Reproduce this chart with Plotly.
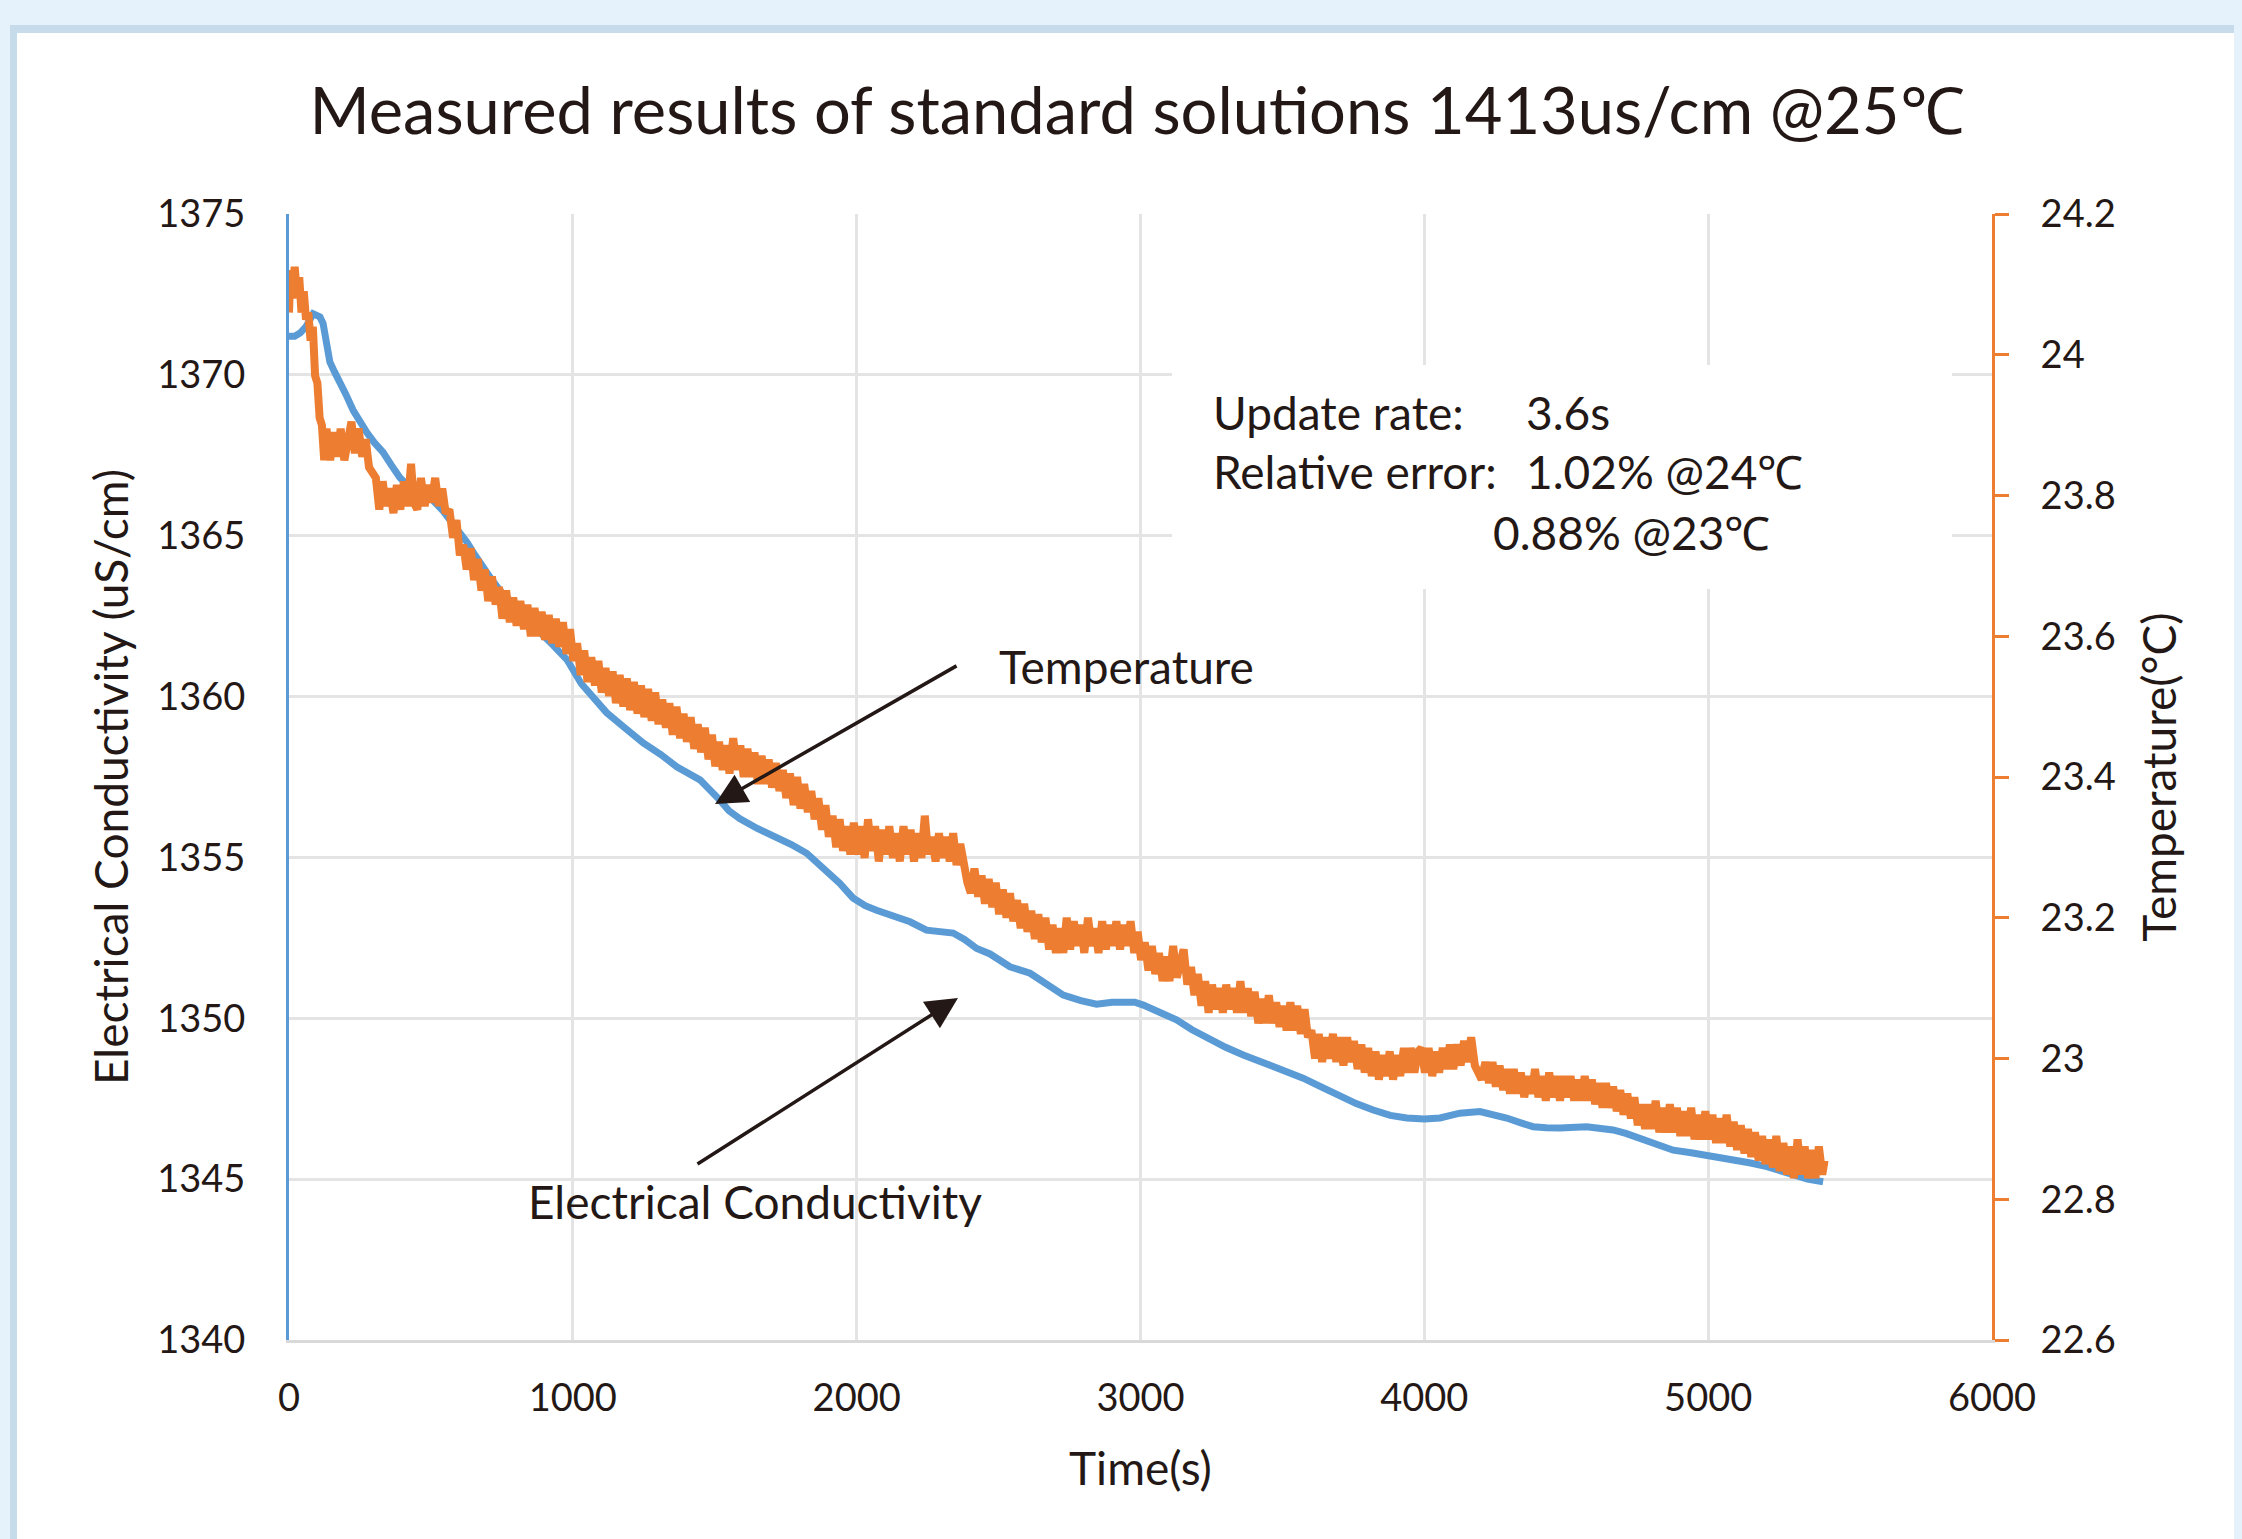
import plotly.graph_objects as go

# ---------------- data ----------------
ec_time = [0, 20, 39, 60, 85, 109, 120, 127, 135, 144, 160, 180, 200, 226, 250, 275, 300, 331, 360,
           391, 420, 451, 480, 507, 540, 567, 600, 627, 655, 683, 713, 743, 780, 814, 850, 884, 930,
           979, 1030, 1070, 1119, 1180, 1248, 1310, 1366, 1448, 1485, 1518, 1550, 1589, 1650, 1718,
           1770, 1824, 1894, 1940, 1987, 2030, 2070, 2130, 2188, 2246, 2300, 2340, 2380, 2423, 2470,
           2540, 2611, 2670, 2728, 2790, 2845, 2900, 2939, 2980, 3010, 3060, 3127, 3180, 3233, 3300,
           3362, 3420, 3480, 3573, 3640, 3703, 3760, 3820, 3880, 3938, 4000, 4055, 4125, 4196, 4250,
           4290, 4340, 4383, 4430, 4477, 4572, 4665, 4710, 4760, 4820, 4877, 4940, 4995, 5088, 5150,
           5207, 5260, 5300, 5350, 5405]
ec_value = [1371.2, 1371.2, 1371.3, 1371.5, 1371.9, 1371.8, 1371.6, 1371.2, 1370.7, 1370.4, 1370.1,
            1369.8, 1369.4, 1368.9, 1368.5, 1368.2, 1367.9, 1367.6, 1367.2, 1366.8, 1366.55, 1366.4,
            1366.25, 1366.1, 1365.8, 1365.5, 1365.15, 1364.8, 1364.4, 1364.0, 1363.65, 1363.3,
            1362.95, 1362.6, 1362.3, 1362.0, 1361.6, 1361.15, 1360.4, 1360.0, 1359.5, 1359.05,
            1358.56, 1358.2, 1357.82, 1357.41, 1357.1, 1356.78, 1356.45, 1356.2, 1355.9, 1355.64,
            1355.4, 1355.13, 1354.6, 1354.2, 1353.74, 1353.5, 1353.36, 1353.2, 1353.0, 1352.74,
            1352.68, 1352.65, 1352.45, 1352.17, 1352.0, 1351.6, 1351.4, 1351.05, 1350.72, 1350.55,
            1350.44, 1350.5, 1350.52, 1350.5, 1350.41, 1350.2, 1349.95, 1349.65, 1349.39, 1349.1,
            1348.86, 1348.65, 1348.49, 1348.14, 1347.85, 1347.56, 1347.35, 1347.15, 1346.98, 1346.9,
            1346.87, 1346.9, 1347.05, 1347.1, 1347.0, 1346.9, 1346.75, 1346.63, 1346.6, 1346.59,
            1346.63, 1346.53, 1346.42, 1346.28, 1346.08, 1345.9, 1345.82, 1345.75, 1345.6, 1345.5,
            1345.39, 1345.25, 1345.13, 1345.0, 1344.92]

temp_time = [
    0, 5, 12, 20, 28, 36, 44, 52, 60, 68, 76, 84, 92, 100, 108, 116, 124,
    132, 145, 158, 170, 182, 195, 208, 220, 232, 245, 258, 270, 282, 294,
    306, 318, 330, 342, 355, 368, 380, 392, 405, 418, 430, 440, 452, 465, 478, 490, 502, 515, 528, 540, 552,
    565, 578, 590, 602, 614, 626, 640, 652, 665, 678, 690, 702, 715, 728, 740, 752, 765, 778, 790, 802,
    815, 828, 840, 852, 865, 878, 890, 902, 915, 928, 940, 952, 965, 978,
    990, 1002, 1015, 1028, 1040, 1052, 1065, 1078, 1090, 1102, 1115, 1128, 1140, 1152, 1165, 1178, 1190,
    1202, 1215, 1228, 1240, 1252, 1265, 1278, 1290, 1302, 1315, 1328, 1340, 1352, 1365, 1378, 1390, 1402,
    1415, 1428, 1440, 1452, 1465, 1478, 1490, 1502,
    1515, 1528, 1540, 1552, 1565, 1578, 1590, 1602, 1615, 1628, 1640, 1652, 1665, 1678, 1690, 1702, 1715,
    1728, 1740, 1752, 1765, 1778, 1790, 1802, 1815, 1828, 1840, 1852, 1865, 1878, 1890, 1902, 1915, 1928,
    1940, 1952, 1965, 1978,
    1990, 2002, 2015, 2028, 2040, 2052, 2065, 2078, 2090, 2102, 2115, 2128, 2140, 2152, 2165, 2178, 2190,
    2202, 2215, 2228, 2240, 2252, 2265, 2278, 2290, 2302, 2315, 2328, 2340, 2352, 2365,
    2378, 2390, 2402, 2415, 2428, 2440, 2452, 2465, 2478, 2490, 2502, 2515, 2528, 2540, 2552, 2565, 2578,
    2590, 2602, 2615, 2628, 2640, 2652, 2665, 2678, 2690, 2702,
    2715, 2728, 2740, 2752, 2765, 2778, 2790, 2802, 2815, 2828, 2840, 2852, 2865, 2878, 2890, 2902, 2915,
    2928, 2940, 2952, 2965, 2978, 2990,
    3002, 3015, 3028, 3040, 3052, 3065, 3078, 3090, 3102, 3115, 3128, 3140, 3152, 3165, 3178, 3190, 3202,
    3215, 3228, 3240, 3252, 3265, 3278, 3290, 3302, 3315, 3328, 3340, 3352, 3365, 3378, 3390, 3402, 3415,
    3428, 3440, 3452, 3465, 3478, 3490, 3502, 3515, 3528, 3540, 3552, 3565, 3578, 3590,
    3602, 3615, 3628, 3640, 3652, 3665, 3678, 3690, 3702, 3715, 3728, 3740, 3752, 3765, 3778, 3790, 3802,
    3815, 3828, 3840, 3852, 3865, 3878, 3890, 3902, 3915, 3928, 3940, 3952, 3965, 3978,
    3990, 4002, 4015, 4028, 4040, 4052, 4065, 4078, 4090, 4102, 4115, 4128, 4140, 4152, 4165, 4178, 4190,
    4202, 4215,
    4228, 4240, 4252, 4265, 4278, 4290, 4302, 4315, 4328, 4340, 4352, 4365, 4378, 4390, 4402, 4415, 4428,
    4440, 4452, 4465, 4478, 4490, 4502, 4515, 4528, 4540, 4552, 4565, 4578, 4590, 4602, 4615, 4628, 4640,
    4652,
    4665, 4678, 4690, 4702, 4715, 4728, 4740, 4752, 4765, 4778, 4790, 4802, 4815, 4828, 4840, 4852, 4865,
    4878, 4890, 4902, 4915, 4928, 4940, 4952, 4965, 4978, 4990, 5002,
    5015, 5028, 5040, 5052, 5065, 5078, 5090, 5102, 5115, 5128, 5140, 5152, 5165, 5178, 5190, 5202, 5215,
    5228, 5240, 5252, 5265, 5278, 5290, 5302, 5315, 5328, 5340, 5352, 5365, 5378, 5390, 5402, 5410]
temp_value = [
    24.06, 24.12, 24.08, 24.125, 24.085, 24.11, 24.06, 24.09, 24.05, 24.06, 24.02, 24.04, 23.97, 23.96, 23.91, 23.90, 23.85,
    23.895, 23.85, 23.89, 23.855, 23.895, 23.85, 23.88, 23.905, 23.86, 23.895, 23.855, 23.88, 23.84, 23.83,
    23.825, 23.78, 23.82, 23.785, 23.81, 23.775, 23.815, 23.78, 23.82, 23.785, 23.845, 23.79, 23.78, 23.825, 23.785,
    23.815, 23.79, 23.825, 23.785, 23.81, 23.775,
    23.78, 23.74, 23.765, 23.715, 23.73, 23.695, 23.725, 23.68, 23.71, 23.665, 23.695, 23.65, 23.685, 23.645, 23.67,
    23.625, 23.665, 23.62, 23.655, 23.615,
    23.65, 23.61, 23.645, 23.60, 23.64, 23.60, 23.635, 23.595, 23.63, 23.59, 23.625, 23.585, 23.62, 23.575,
    23.61, 23.565, 23.59, 23.545, 23.58, 23.535, 23.57, 23.53, 23.565, 23.52, 23.555, 23.515, 23.55, 23.505, 23.545,
    23.50, 23.54,
    23.495, 23.535, 23.49, 23.53, 23.485, 23.525, 23.48, 23.52, 23.475, 23.51, 23.47, 23.505, 23.46, 23.50, 23.455,
    23.49, 23.45,
    23.485, 23.44, 23.475, 23.435, 23.47, 23.425, 23.46, 23.415,
    23.45, 23.41, 23.445, 23.405, 23.455, 23.41, 23.445, 23.40, 23.44, 23.40, 23.435, 23.39, 23.43, 23.39, 23.425,
    23.385, 23.42,
    23.38, 23.41, 23.37, 23.405, 23.36, 23.40, 23.355, 23.39, 23.35, 23.38, 23.34, 23.37, 23.325, 23.36, 23.315,
    23.345, 23.30,
    23.34, 23.295, 23.33, 23.29,
    23.335, 23.29, 23.33, 23.285, 23.34, 23.295, 23.33, 23.28, 23.325, 23.29, 23.33, 23.285, 23.32, 23.28, 23.33,
    23.29, 23.325,
    23.28, 23.32, 23.285, 23.345, 23.29, 23.315, 23.28, 23.32, 23.285, 23.315, 23.28, 23.32, 23.275, 23.305,
    23.265, 23.25, 23.235, 23.27, 23.23, 23.26, 23.22, 23.255, 23.215, 23.25, 23.205, 23.24, 23.20, 23.235, 23.195,
    23.225, 23.185,
    23.22, 23.18, 23.21, 23.17, 23.205, 23.165, 23.20, 23.155, 23.19, 23.15,
    23.185, 23.15, 23.20, 23.155, 23.195, 23.16, 23.19, 23.15, 23.20, 23.16, 23.185, 23.15, 23.195, 23.155, 23.19,
    23.16, 23.195,
    23.155, 23.19, 23.16, 23.195, 23.15, 23.18,
    23.14, 23.165, 23.125, 23.16, 23.12, 23.15, 23.11, 23.145, 23.11, 23.16, 23.115, 23.14, 23.155, 23.105, 23.13,
    23.09, 23.12,
    23.075, 23.11, 23.065, 23.105, 23.07, 23.10, 23.065, 23.105, 23.07, 23.10, 23.065, 23.11, 23.065, 23.10, 23.06,
    23.095, 23.05,
    23.085, 23.05, 23.09, 23.05, 23.08, 23.045, 23.075, 23.04, 23.08, 23.04, 23.075, 23.035, 23.07, 23.03,
    23.04, 23.00, 23.035, 22.995, 23.03, 23.00, 23.035, 22.995, 23.03, 22.99, 23.03, 22.995, 23.025, 22.985, 23.02,
    22.98, 23.015,
    22.975, 23.01, 22.97, 23.005, 22.975, 23.01, 22.97, 23.005, 22.975, 23.015, 22.98, 23.015, 22.98, 23.01,
    23.015, 22.98, 23.015, 22.975, 23.01, 22.98, 23.015, 22.985, 23.02, 22.985, 23.02, 22.99, 23.025, 22.995, 23.03,
    22.99, 22.98,
    22.97, 22.995,
    22.965, 22.995, 22.96, 22.99, 22.955, 22.985, 22.95, 22.985, 22.95, 22.98, 22.945, 22.975, 22.95, 22.985, 22.945,
    22.975, 22.94,
    22.98, 22.945, 22.975, 22.94, 22.975, 22.945, 22.975, 22.94, 22.97, 22.94, 22.975, 22.94, 22.97, 22.935, 22.965,
    22.93, 22.965,
    22.93,
    22.96, 22.925, 22.955, 22.92, 22.95, 22.915, 22.945, 22.905, 22.935, 22.90, 22.935, 22.90, 22.94, 22.895, 22.93,
    22.895, 22.935,
    22.895, 22.93, 22.89, 22.925, 22.89, 22.93, 22.885, 22.92, 22.885, 22.925, 22.885,
    22.92, 22.88, 22.915, 22.88, 22.92, 22.875, 22.91, 22.87, 22.905, 22.865, 22.90, 22.86, 22.895, 22.855, 22.89,
    22.85, 22.885,
    22.845, 22.89, 22.84, 22.88, 22.835, 22.875, 22.83, 22.885, 22.835, 22.875, 22.83, 22.87, 22.83, 22.875, 22.835,
    22.855]

x_ticks = [0, 1000, 2000, 3000, 4000, 5000, 6000]
ec_ticks = [1340, 1345, 1350, 1355, 1360, 1365, 1370, 1375]
temp_ticks = [22.6, 22.8, 23.0, 23.2, 23.4, 23.6, 23.8, 24.0, 24.2]
temp_tick_labels = ["22.6", "22.8", "23", "23.2", "23.4", "23.6", "23.8", "24", "24.2"]

# ---------------- styling / layout ----------------
OFF = 8                      # default page margin of the html body
W, H = 2242 - OFF, 1539 - OFF
ML, MT = 289 - OFF, 214 - OFF
PW, PH = 1703, 1126
MR, MB = W - ML - PW, H - MT - PH
FONT = "Lato"
TXT = "#231815"
BLUE = "#5B9BD5"
ORANGE = "#ED7D31"
GRID = "#E4E4E4"
OUTER = "#E6F2FB"


def px(X):  # page pixel -> paper coordinate
    return (X - OFF - ML) / PW


def py(Y):
    return (H - MB - (Y - OFF)) / PH


fig = go.Figure()
fig.add_trace(go.Scatter(x=ec_time, y=ec_value, mode="lines", name="Electrical Conductivity",
                         line=dict(color=BLUE, width=7), yaxis="y"))
fig.add_trace(go.Scatter(x=temp_time, y=temp_value, mode="lines", name="Temperature",
                         line=dict(color=ORANGE, width=8), yaxis="y2"))

shapes = [
    dict(type="rect", xref="paper", yref="paper", layer="below",
         x0=px(10), x1=px(2270), y0=py(1570), y1=py(25),
         fillcolor="#C6DCEB", line=dict(width=0)),
    dict(type="rect", xref="paper", yref="paper", layer="below",
         x0=px(17), x1=px(2270), y0=py(1570), y1=py(33),
         fillcolor="white", line=dict(width=0)),
    dict(type="rect", xref="paper", yref="paper", layer="above",
         x0=px(1172), x1=px(1952), y0=py(589), y1=py(365),
         fillcolor="white", line=dict(width=0)),
]

ann_font = dict(family=FONT, size=46, color=TXT)
annotations = [
    dict(xref="paper", yref="paper", x=px(1211), y=py(412), text="Update rate:",
         showarrow=False, xanchor="left", yanchor="middle", font=ann_font),
    dict(xref="paper", yref="paper", x=px(1524), y=py(412), text="3.6s",
         showarrow=False, xanchor="left", yanchor="middle", font=ann_font),
    dict(xref="paper", yref="paper", x=px(1211), y=py(472), text="Relative error:",
         showarrow=False, xanchor="left", yanchor="middle", font=ann_font),
    dict(xref="paper", yref="paper", x=px(1524), y=py(472), text="1.02% @24℃",
         showarrow=False, xanchor="left", yanchor="middle", font=ann_font),
    dict(xref="paper", yref="paper", x=px(1491), y=py(532), text="0.88% @23℃",
         showarrow=False, xanchor="left", yanchor="middle", font=ann_font),
    dict(xref="x", yref="y", x=2494, y=1360.95, text="Temperature",
         showarrow=False, xanchor="left", yanchor="middle", font=ann_font),
    dict(xref="x", yref="y", x=835, y=1344.32, text="Electrical Conductivity",
         showarrow=False, xanchor="left", yanchor="middle", font=ann_font),
    dict(xref="x", yref="y", x=1501, y=1356.66, ax=243, ay=-139, text="",
         showarrow=True, arrowhead=2, arrowwidth=3.5, arrowsize=1.8, arrowcolor=TXT),
    dict(xref="x", yref="y", x=2357, y=1350.63, ax=-262, ay=167, text="",
         showarrow=True, arrowhead=2, arrowwidth=3.5, arrowsize=1.8, arrowcolor=TXT),
]

tick_font = dict(family=FONT, size=38, color=TXT)
title_font = dict(family=FONT, size=46, color=TXT)

fig.update_layout(
    width=W, height=H,
    margin=dict(l=ML, r=MR, t=MT, b=MB, pad=0),
    paper_bgcolor=OUTER,
    plot_bgcolor="rgba(0,0,0,0)",
    showlegend=False,
    title=dict(text="Measured results of standard solutions 1413us/cm @25℃",
               x=(1137 - OFF) / W, xanchor="center", xref="container",
               y=1 - (111 - OFF) / H, yanchor="middle", yref="container",
               font=dict(family=FONT, size=65, color=TXT)),
    xaxis=dict(range=[0, 6000], tickvals=x_ticks, showgrid=True, gridcolor=GRID, gridwidth=3,
               zeroline=False, showline=True, linecolor="#D9D9D9", linewidth=3,
               ticks="", tickfont=tick_font, ticklabelstandoff=22,
               title=dict(text="Time(s)", font=title_font, standoff=36)),
    yaxis=dict(range=[1340, 1375], tickvals=ec_ticks, showgrid=True, gridcolor=GRID, gridwidth=3,
               zeroline=False, showline=True, linecolor=BLUE, linewidth=3,
               ticks="", tickfont=tick_font, ticklabelstandoff=33,
               title=dict(text="Electrical Conductivity (uS/cm)", font=title_font, standoff=15)),
    yaxis2=dict(range=[22.6, 24.2], tickvals=temp_ticks, ticktext=temp_tick_labels,
                overlaying="y", side="right", showgrid=False, zeroline=False,
                showline=True, linecolor=ORANGE, linewidth=3,
                ticks="outside", ticklen=14, tickwidth=3, tickcolor=ORANGE,
                tickfont=tick_font, ticklabelstandoff=24,
                title=dict(text="Temperature(°C)", font=title_font, standoff=30)),
    shapes=shapes,
    annotations=annotations,
)

fig.write_html("out.html",
               post_script="document.body.style.backgroundColor='" + OUTER + "';")
